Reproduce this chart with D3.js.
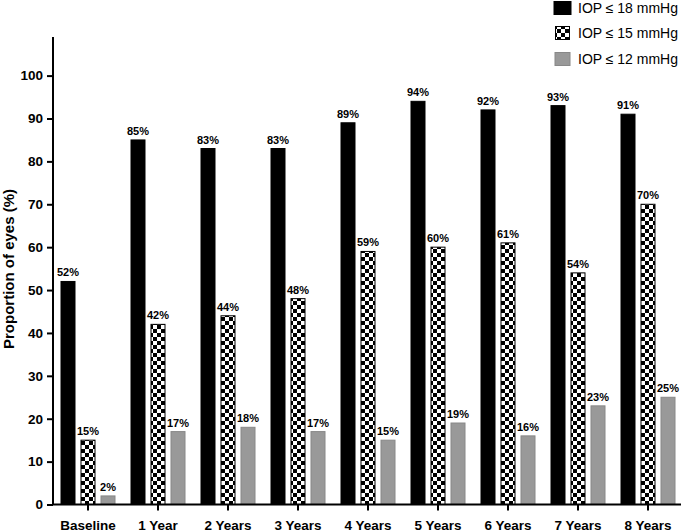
<!DOCTYPE html>
<html><head><meta charset="utf-8">
<script src="https://cdn.jsdelivr.net/npm/d3@7"></script>
<style>body{margin:0;background:#fff}svg{display:block;font-family:"Liberation Sans",Arial,sans-serif}</style>
</head><body><svg id="c" width="685" height="532"></svg>
<script>
const categories = ["Baseline","1 Year","2 Years","3 Years","4 Years","5 Years","6 Years","7 Years","8 Years"];
const seriesNames = ["IOP ≤ 18 mmHg","IOP ≤ 15 mmHg","IOP ≤ 12 mmHg"];
const iop18 = [52,85,83,83,89,94,92,93,91];
const iop15 = [15,42,44,48,59,60,61,54,70];
const iop12 = [2,17,18,17,15,19,16,23,25];
const yTicks = [0,10,20,30,40,50,60,70,80,90,100];

const svg = d3.select("#c");
const defs = svg.append("defs");
const pat = defs.append("pattern").attr("id","chk").attr("patternUnits","userSpaceOnUse")
  .attr("width",8).attr("height",8).attr("x",1).attr("y",1);
pat.append("rect").attr("width",8).attr("height",8).attr("fill","#fff");
pat.append("rect").attr("width",4).attr("height",4).attr("fill","#000");
pat.append("rect").attr("x",4).attr("y",4).attr("width",4).attr("height",4).attr("fill","#000");

const fills = ["#000","url(#chk)","#999"];
const strokes = ["#000","#000","#888"];
const series = [iop18, iop15, iop12];

const x0 = d3.scaleBand().domain(categories).range([53,683]);
const x1 = d3.scaleBand().domain([0,1,2]).range([-27.5,27.5]).paddingInner(0.25);
const y = d3.scaleLinear().domain([0,109]).range([504.5,37]);

// bars
const g = svg.append("g");
categories.forEach((c,i)=>{
  const cx = x0(c)+x0.bandwidth()/2;
  series.forEach((s,k)=>{
    const bx = cx + x1(k);
    g.append("rect").attr("x",bx+0.5).attr("y",y(s[i])).attr("width",x1.bandwidth()-1)
      .attr("height",y(0)-y(s[i])).attr("fill",fills[k]).attr("stroke",strokes[k]).attr("stroke-width",1);
    g.append("text").attr("x",bx+x1.bandwidth()/2).attr("y",y(s[i])-5)
      .attr("text-anchor","middle").attr("font-size",11).attr("font-weight","bold").text(s[i]+"%");
  });
});

// y axis
const ya = svg.append("g").attr("transform","translate(53,0)")
  .call(d3.axisLeft(y).tickValues(yTicks).tickSize(6).tickPadding(4));
ya.select(".domain").attr("d",`M0,${y(109)}V${y(0)}`).attr("stroke","#000").attr("stroke-width",2);
ya.selectAll(".tick line").attr("stroke","#000").attr("stroke-width",2);
ya.selectAll(".tick text").attr("font-size",13.5).attr("font-weight","bold").attr("fill","#000")
  .attr("font-family","Liberation Sans, Arial, sans-serif");

// x axis
const xa = svg.append("g").attr("transform",`translate(0,${y(0)})`)
  .call(d3.axisBottom(x0).tickSize(6).tickPadding(10));
xa.select(".domain").attr("d","M52,0H681").attr("stroke","#000").attr("stroke-width",2);
xa.selectAll(".tick line").attr("stroke","#000").attr("stroke-width",2);
xa.selectAll(".tick text").attr("font-size",13.5).attr("font-weight","bold").attr("fill","#000")
  .attr("font-family","Liberation Sans, Arial, sans-serif");

// y title
svg.append("text").attr("transform","translate(14,269) rotate(-90)").attr("text-anchor","middle")
  .attr("font-size",15).attr("font-weight","bold").text("Proportion of eyes (%)");

// legend
const legY = [8,33,59];
const legW = [17,14,15];
seriesNames.forEach((n,k)=>{
  svg.append("rect").attr("x",562.5-legW[k]/2).attr("y",legY[k]-6.5).attr("width",legW[k]).attr("height",13)
    .attr("fill",fills[k]).attr("stroke",strokes[k]).attr("stroke-width",1);
  svg.append("text").attr("x",578).attr("y",legY[k]+5).attr("font-size",14).text(n);
});
</script></body></html>
